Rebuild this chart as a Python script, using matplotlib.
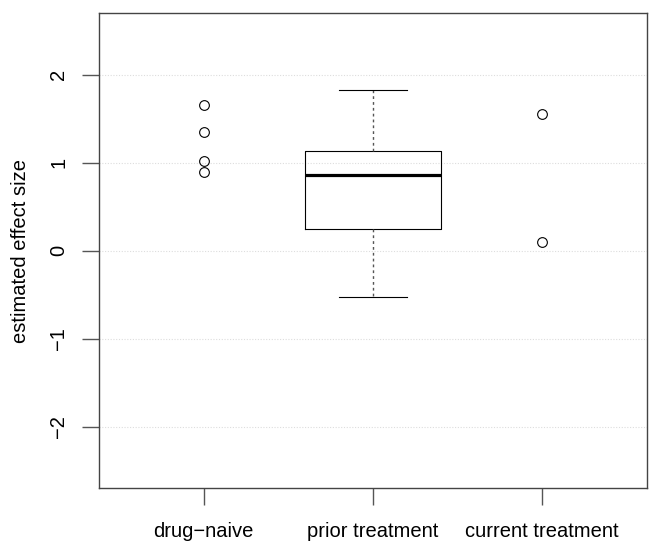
import matplotlib
matplotlib.use("Agg")
import matplotlib.pyplot as plt

plt.rcParams['font.family'] = ['Liberation Sans', 'DejaVu Sans']

# groups and values
groups = ['drug\u2212naive', 'prior treatment', 'current treatment']
naive_pts = [1.66, 1.35, 1.02, 0.90]
current_pts = [1.555, 0.10]
# box stats for prior treatment
prior_stats = dict(med=0.86, q1=0.245, q3=1.135, whislo=-0.52, whishi=1.83, fliers=[])
yticks = [-2, -1, 0, 1, 2]
ytick_labels = ['\u22122', '\u22121', '0', '1', '2']

fig = plt.figure(figsize=(6.59, 5.47), dpi=100)
ax = fig.add_axes([0.150, 0.1073, 0.832, 0.8684])

ax.set_yticks(yticks)
ax.yaxis.grid(True, linestyle=(0, (1, 1.5)), color='#dddddd', linewidth=0.8)
ax.set_axisbelow(True)

ax.bxp([prior_stats], positions=[2], widths=0.8, showfliers=False,
       boxprops=dict(color='black', linewidth=0.8),
       medianprops=dict(color='black', linewidth=2.3, solid_capstyle='butt'),
       whiskerprops=dict(color='#555555', linewidth=1.0, linestyle=(0, (2, 2.2))),
       capprops=dict(color='black', linewidth=0.8),
       capwidths=0.4)

ax.plot([1] * len(naive_pts), naive_pts, 'o', mfc='none', mec='black', ms=7, mew=0.8)
ax.plot([3] * len(current_pts), current_pts, 'o', mfc='none', mec='black', ms=7, mew=0.8)

ax.set_xlim(0.38, 3.62)
ax.set_ylim(-2.7, 2.7)
ax.set_xticks([1, 2, 3])
ax.set_xticklabels(groups, fontsize=14.5)
ax.set_yticklabels(ytick_labels, fontsize=14.5, rotation=90, va='center')
ax.tick_params(axis='both', direction='out', length=12, width=1, color='#555555', pad=12)
ax.tick_params(axis='y', pad=10)

for s in ax.spines.values():
    s.set_color('#444444')
    s.set_linewidth(1.0)

ax.set_ylabel('estimated effect size', fontsize=14.5, labelpad=14)

fig.savefig('out.png', dpi=100)
